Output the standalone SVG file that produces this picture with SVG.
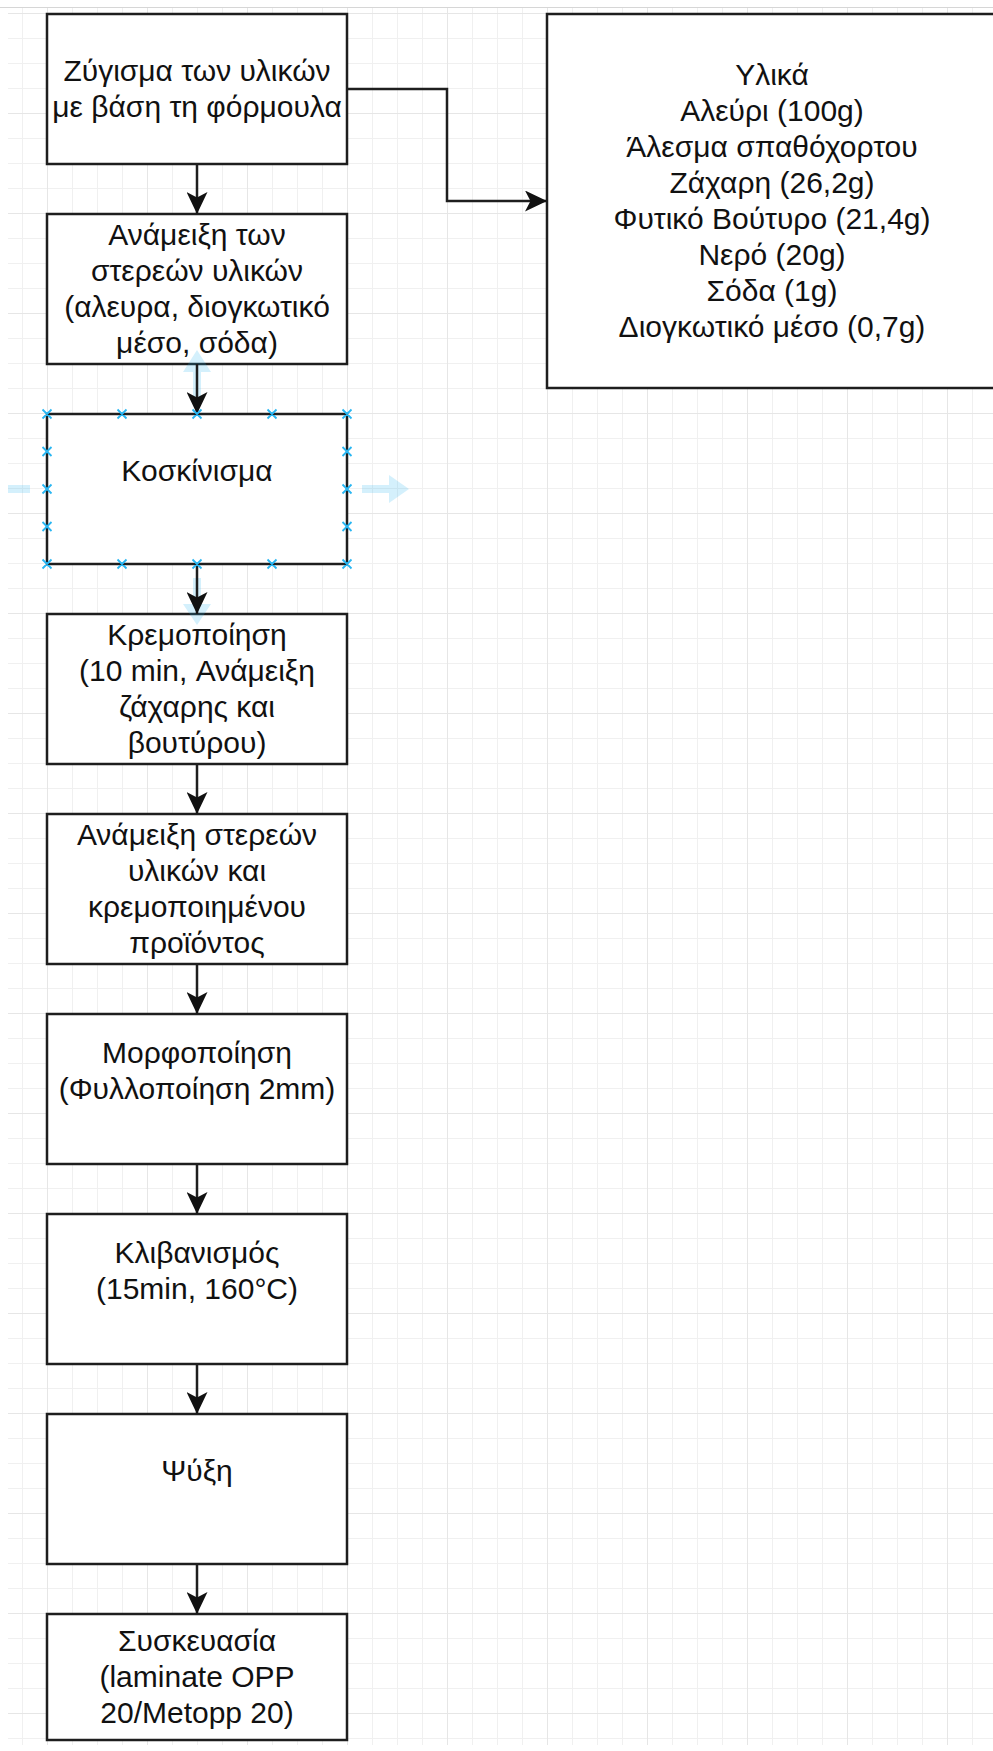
<svg xmlns="http://www.w3.org/2000/svg" width="993" height="1751" viewBox="0 0 993 1751">
<style>
.box{fill:#ffffff;stroke:#1e1e1e;stroke-width:2.5}
.lbl{font-family:"Liberation Sans",Arial,sans-serif;font-size:30px;fill:#111111;text-anchor:middle}
.edge{fill:none;stroke:#1e1e1e;stroke-width:2.5}
.hint{fill:#29b6f2;fill-opacity:0.2}
.pt{stroke:#29b6f2;stroke-width:1.8;fill:none}
</style>
<defs>
<pattern id="grid" x="47" y="13" width="100" height="100" patternUnits="userSpaceOnUse">
<path d="M0 25.5H100M0 50.5H100M0 75.5H100M25.5 0V100M50.5 0V100M75.5 0V100" stroke="#f0f0f0" stroke-width="1"/>
<path d="M0 0.5H100M0.5 0V100" stroke="#e6e6e6" stroke-width="1"/>
</pattern>
<marker id="arr" viewBox="0 0 22 21" refX="22" refY="10.5" markerWidth="22" markerHeight="21" markerUnits="userSpaceOnUse" orient="auto">
<path d="M0,0 L22,10.5 L0,21 L5.5,10.5 Z" fill="#111111"/>
</marker>
</defs>

<rect x="0" y="0" width="993" height="1751" fill="#ffffff"/>
<rect x="8" y="8" width="985" height="1737" fill="url(#grid)"/>
<rect x="0" y="0" width="993" height="8" fill="#ffffff"/>
<rect x="0" y="0" width="8" height="1751" fill="#ffffff"/>
<line x1="0" y1="7.5" x2="993" y2="7.5" stroke="#d6d6d6" stroke-width="1"/>

<g id="n1">
<rect class="box" x="47" y="14" width="300" height="150"/>
<text class="lbl" x="197" y="81.4">Ζύγισμα των υλικών</text>
<text class="lbl" x="197" y="117.4">με βάση τη φόρμουλα</text>
</g>
<g id="n2">
<rect class="box" x="47" y="214" width="300" height="150"/>
<text class="lbl" x="197" y="245.4">Ανάμειξη των</text>
<text class="lbl" x="197" y="281.4">στερεών υλικών</text>
<text class="lbl" x="197" y="317.4">(αλευρα, διογκωτικό</text>
<text class="lbl" x="197" y="353.4">μέσο, σόδα)</text>
</g>
<g id="n3">
<rect class="box" x="47" y="414" width="300" height="150"/>
<text class="lbl" x="197" y="481.4">Κοσκίνισμα</text>
</g>
<g id="n4">
<rect class="box" x="47" y="614" width="300" height="150"/>
<text class="lbl" x="197" y="645.4">Κρεμοποίηση</text>
<text class="lbl" x="197" y="681.4">(10 min, Ανάμειξη</text>
<text class="lbl" x="197" y="717.4">ζάχαρης και</text>
<text class="lbl" x="197" y="753.4">βουτύρου)</text>
</g>
<g id="n5">
<rect class="box" x="47" y="814" width="300" height="150"/>
<text class="lbl" x="197" y="845.4">Ανάμειξη στερεών</text>
<text class="lbl" x="197" y="881.4">υλικών και</text>
<text class="lbl" x="197" y="917.4">κρεμοποιημένου</text>
<text class="lbl" x="197" y="953.4">προϊόντος</text>
</g>
<g id="n6">
<rect class="box" x="47" y="1014" width="300" height="150"/>
<text class="lbl" x="197" y="1063.4">Μορφοποίηση</text>
<text class="lbl" x="197" y="1099.4">(Φυλλοποίηση 2mm)</text>
</g>
<g id="n7">
<rect class="box" x="47" y="1214" width="300" height="150"/>
<text class="lbl" x="197" y="1263.4">Κλιβανισμός</text>
<text class="lbl" x="197" y="1299.4">(15min, 160°C)</text>
</g>
<g id="n8">
<rect class="box" x="47" y="1414" width="300" height="150"/>
<text class="lbl" x="197" y="1481.4">Ψύξη</text>
</g>
<g id="n9">
<rect class="box" x="47" y="1614" width="300" height="126"/>
<text class="lbl" x="197" y="1651.4">Συσκευασία</text>
<text class="lbl" x="197" y="1687.4">(laminate OPP</text>
<text class="lbl" x="197" y="1723.4">20/Metopp 20)</text>
</g>
<g id="ingredients">
<rect class="box" x="547" y="14" width="450" height="374"/>
<text class="lbl" x="772" y="85.4">Υλικά</text>
<text class="lbl" x="772" y="121.4">Αλεύρι (100g)</text>
<text class="lbl" x="772" y="157.4">Άλεσμα σπαθόχορτου</text>
<text class="lbl" x="772" y="193.4">Ζάχαρη (26,2g)</text>
<text class="lbl" x="772" y="229.4">Φυτικό Βούτυρο (21,4g)</text>
<text class="lbl" x="772" y="265.4">Νερό (20g)</text>
<text class="lbl" x="772" y="301.4">Σόδα (1g)</text>
<text class="lbl" x="772" y="337.4">Διογκωτικό μέσο (0,7g)</text>
</g>

<g id="hover-hints">
<polygon class="hint" points="193,400 193,372 183,372 197,350 211,372 201,372 201,400"/>
<polygon class="hint" points="193,578 201,578 201,604 211,604 197,625 183,604 193,604"/>
<polygon class="hint" points="362,485 389,485 389,475 409,489 389,503 389,493 362,493"/>
<polygon class="hint" points="30,485 8,485 8,493 30,493"/>
</g>

<g id="connectors">
<path class="edge" d="M347,89 H447 V201 H547" marker-end="url(#arr)"/>
<path class="edge" d="M197,164 V214" marker-end="url(#arr)"/>
<path class="edge" d="M197,364 V414" marker-end="url(#arr)"/>
<path class="edge" d="M197,564 V614" marker-end="url(#arr)"/>
<path class="edge" d="M197,764 V814" marker-end="url(#arr)"/>
<path class="edge" d="M197,964 V1014" marker-end="url(#arr)"/>
<path class="edge" d="M197,1164 V1214" marker-end="url(#arr)"/>
<path class="edge" d="M197,1364 V1414" marker-end="url(#arr)"/>
<path class="edge" d="M197,1564 V1614" marker-end="url(#arr)"/>
</g>

<g id="connection-points" class="pt">
<path d="M42.5,409.5l9,9m0,-9l-9,9 M117.5,409.5l9,9m0,-9l-9,9 M192.5,409.5l9,9m0,-9l-9,9 M267.5,409.5l9,9m0,-9l-9,9 M342.5,409.5l9,9m0,-9l-9,9"/>
<path d="M42.5,559.5l9,9m0,-9l-9,9 M117.5,559.5l9,9m0,-9l-9,9 M192.5,559.5l9,9m0,-9l-9,9 M267.5,559.5l9,9m0,-9l-9,9 M342.5,559.5l9,9m0,-9l-9,9"/>
<path d="M42.5,447l9,9m0,-9l-9,9 M42.5,484.5l9,9m0,-9l-9,9 M42.5,522l9,9m0,-9l-9,9"/>
<path d="M342.5,447l9,9m0,-9l-9,9 M342.5,484.5l9,9m0,-9l-9,9 M342.5,522l9,9m0,-9l-9,9"/>
</g>
</svg>
